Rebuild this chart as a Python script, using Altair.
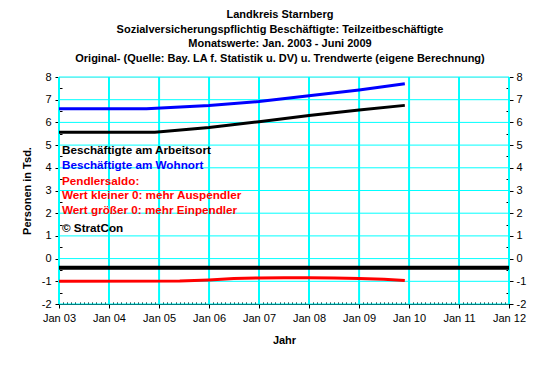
import altair as alt
import pandas as pd

FONT = "Liberation Sans"

# ---- data ----
arb_dates = ["2003-01", "2004-12", "2006-01", "2007-01", "2008-01", "2009-01", "2009-12"]
arb_vals = [5.57, 5.57, 5.78, 6.03, 6.30, 6.55, 6.75]

woh_dates = ["2003-01", "2004-10", "2006-01", "2007-01", "2008-01", "2009-01", "2009-12"]
woh_vals = [6.60, 6.60, 6.74, 6.92, 7.17, 7.43, 7.70]

sal_dates = ["2003-01", "2005-06", "2006-01", "2006-07", "2007-01", "2007-07",
             "2008-01", "2008-07", "2009-01", "2009-07", "2009-12"]
sal_vals = [-1.00, -0.99, -0.94, -0.88, -0.85, -0.84, -0.84, -0.86, -0.88, -0.91, -0.97]

series_names = ["Beschäftigte am Arbeitsort", "Beschäftigte am Wohnort", "Pendlersaldo"]
series_colors = ["#000000", "#0000FF", "#FF0000"]

baseline_value = -0.4
x_start, x_end = 2003, 2012
y_lo, y_hi = -2, 8
y_major = [-2, -1, 0, 1, 2, 3, 4, 5, 6, 7, 8]
y_minor = [-1.5, -0.5, 0.5, 1.5, 2.5, 3.5, 4.5, 5.5, 6.5, 7.5]
grid_years = list(range(x_start, x_end + 1))

note_texts = ["Beschäftigte am Arbeitsort", "Beschäftigte am Wohnort", "Pendlersaldo:",
              "Wert kleiner 0: mehr Auspendler", "Wert größer 0: mehr Einpendler", "© StratCon"]
note_colors = ["#000000", "#0000FF", "#FF0000", "#FF0000", "#FF0000", "#000000"]
note_y = [4.78, 4.12, 3.43, 2.80, 2.14, 1.33]

title_lines = ["Landkreis Starnberg",
               "Sozialversicherungspflichtig Beschäftigte: Teilzeitbeschäftigte",
               "Monatswerte: Jan. 2003 - Juni 2009",
               "Original- (Quelle: Bay. LA f. Statistik u. DV) u. Trendwerte (eigene Berechnung)"]

# ---- tables ----
rows = []
for name, ds, vs in zip(series_names, [arb_dates, woh_dates, sal_dates], [arb_vals, woh_vals, sal_vals]):
    for d, v in zip(ds, vs):
        rows.append({"date": d + "-01T00:00:00", "value": v, "series": name})
df = pd.DataFrame(rows)

rule_df = pd.DataFrame({"start": [f"{x_start}-01-01T00:00:00"], "end": [f"{x_end}-01-01T00:00:00"],
                        "value": [baseline_value]})
note_df = pd.DataFrame({"text": note_texts, "color": note_colors, "y": note_y})
vgrid_df = pd.DataFrame({"date": [f"{y}-01-01T00:00:00" for y in grid_years],
                         "lo": [y_lo] * len(grid_years), "hi": [y_hi] * len(grid_years)})
hgrid_df = pd.DataFrame({"value": y_major})

year_ticks = [alt.DateTime(year=y, month=1, date=1) for y in grid_years]
month_ticks = [alt.DateTime(year=y, month=m, date=1) for y in range(x_start, x_end) for m in range(1, 13)]

xscale = alt.Scale(domain=[alt.DateTime(year=x_start, month=1, date=1),
                           alt.DateTime(year=x_end, month=1, date=1)], padding=0)
yscale = alt.Scale(domain=[y_lo, y_hi], nice=False, zero=False, padding=0)

lab = dict(labelFont=FONT, labelFontSize=11, labelColor="#000000")
ylab = "datum.value < 0 ? '-' + abs(datum.value) : '' + datum.value"

x_main = alt.Axis(values=year_ticks, labelExpr="timeFormat(datum.value, '%b %y')",
                  grid=False, tickSize=4, tickColor="#000000", tickWidth=1,
                  domainColor="#000000", labelPadding=4, labelAngle=0,
                  labelFlush=False, labelOverlap=False, labelBound=False,
                  title="Jahr", titleFont=FONT, titleFontSize=11, titleFontWeight="bold",
                  titleColor="#000000", titleX=225, titleY=36, titleBaseline="middle", **lab)
y_main = alt.Axis(values=y_major, grid=False, tickSize=4, labelExpr=ylab,
                  tickColor="#000000", domainColor="#000000", labelPadding=4,
                  labelFlush=False, labelOverlap=False,
                  title="Personen in Tsd.", titleFont=FONT, titleFontSize=11, titleFontWeight="bold",
                  titleColor="#000000", titleX=-32, titleY=113.5, titleBaseline="middle",
                  titleAngle=270, orient="left", **lab)

vgrid = alt.Chart(vgrid_df).mark_bar(color="#00FFFF", width=2).encode(
    x=alt.X("date:T", scale=xscale, axis=x_main),
    y=alt.Y("lo:Q", scale=yscale, axis=None),
    y2="hi:Q",
)
hgrid = alt.Chart(hgrid_df).mark_rule(color="#00FFFF", strokeWidth=1).encode(
    y=alt.Y("value:Q", scale=yscale, axis=y_main),
)

lines = alt.Chart(df).mark_line(strokeWidth=3).encode(
    x=alt.X("date:T", scale=xscale, axis=None),
    y=alt.Y("value:Q", scale=yscale, axis=None),
    color=alt.Color("series:N", scale=alt.Scale(domain=series_names, range=series_colors), legend=None),
    detail="series:N",
)

base_rule = alt.Chart(rule_df).mark_rule(strokeWidth=4, color="#000000").encode(
    x=alt.X("start:T", scale=xscale, axis=None),
    x2="end:T",
    y=alt.Y("value:Q", scale=yscale, axis=None),
)

notes = alt.Chart(note_df).mark_text(align="left", baseline="middle", font=FONT, fontSize=11.7,
                                     fontWeight="bold").encode(
    x=alt.value(3),
    y=alt.Y("y:Q", scale=yscale, axis=None),
    text="text:N",
    color=alt.Color("color:N", scale=None),
)

def ghost(xaxis, yaxis):
    return alt.Chart(df).mark_point(opacity=0).encode(
        x=alt.X("date:T", scale=xscale, axis=xaxis),
        y=alt.Y("value:Q", scale=yscale, axis=yaxis),
    )

y_left_minor = alt.Axis(values=y_minor, orient="left", labels=False, domain=False, grid=False,
                        tickSize=3, offset=-3, tickColor="#000000", title=None)
y_right_major = alt.Axis(values=y_major, orient="right", grid=False, tickSize=4, tickColor="#000000",
                         domainColor="#000000", labelPadding=3, title=None, labelExpr=ylab,
                         labelFlush=False, labelOverlap=False, **lab)
y_right_minor = alt.Axis(values=y_minor, orient="right", labels=False, domain=False, grid=False,
                         tickSize=3, offset=-3, tickColor="#000000", title=None)
x_minor = alt.Axis(values=month_ticks, orient="bottom", labels=False, domain=False, grid=False,
                   tickSize=2, offset=-2, tickColor="#000000", title=None)

chart = alt.layer(
    vgrid,
    hgrid,
    lines,
    base_rule,
    notes,
    ghost(None, y_left_minor),
    ghost(None, y_right_major),
    ghost(None, y_right_minor),
    ghost(x_minor, None),
).resolve_axis(x="independent", y="independent").properties(
    width=450, height=227,
    autosize=alt.AutoSizeParams(type="none"),
    padding={"left": 51, "top": 69, "right": 43, "bottom": 62},
    title=alt.TitleParams(text=title_lines, font=FONT, fontSize=11, fontWeight="bold",
                          color="#000000", anchor="middle", lineHeight=14.7, offset=7, dx=-4),
).configure_view(fill="#C0C0C0", stroke="#808080").configure(background="#FFFFFF")

chart.save("out.html", embed_options={"renderer": "svg", "actions": False})
